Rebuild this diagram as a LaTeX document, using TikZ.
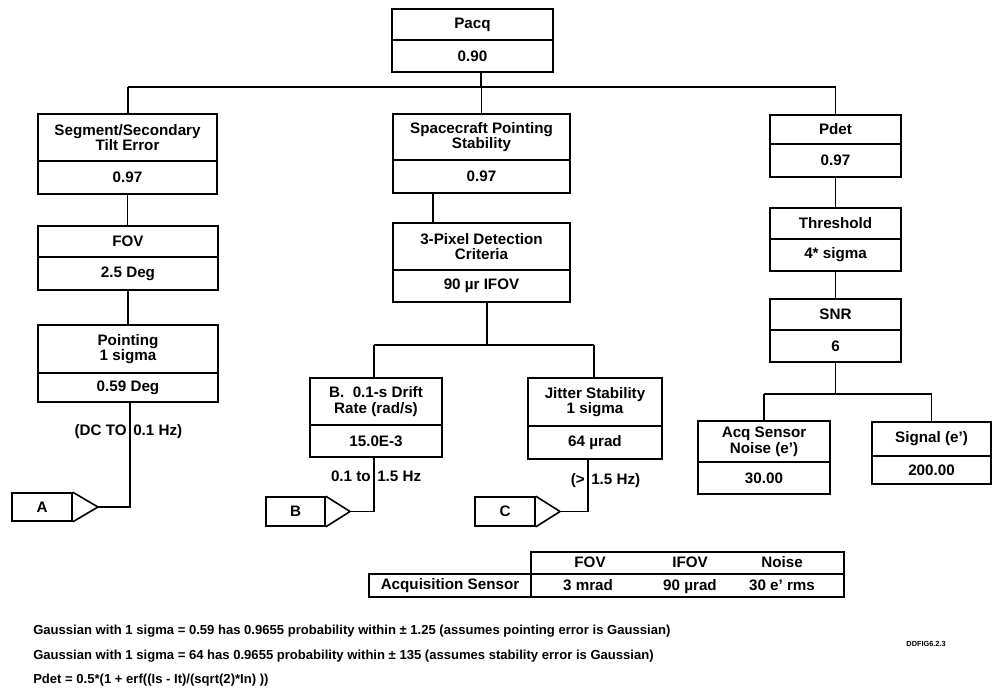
\documentclass[tikz,border=0pt]{standalone}
\usepackage{fontspec}
\setmainfont{Liberation Sans}
\newcommand\boxfont{\bfseries\fontsize{11.4}{11.8}\selectfont}
\newcommand\notefont{\bfseries\fontsize{9.8}{11}\selectfont}
\newcommand\tinyfont{\bfseries\fontsize{5.5}{6}\selectfont}

% Two-row box: name, x-left, x-right, y-top, y-divider, y-bottom, label, value
\newcommand\twobox[8]{%
  \node[cell, minimum width={(#3-#2)*0.75pt}, minimum height={(#5-#4)*0.75pt}]
    (#1) at ({(#2+#3)/2},{(#4+#5)/2}) {#7};
  \node[cell, minimum width={(#3-#2)*0.75pt}, minimum height={(#6-#5)*0.75pt}]
    (#1v) at ({(#2+#3)/2},{(#5+#6)/2}) {#8};}

% Off-page connector: name, x-left, x-right, y-top, y-bottom, tip x, letter
\newcommand\pennant[7]{%
  \node[cell, minimum width={(#3-#2)*0.75pt}, minimum height={(#5-#4)*0.75pt}]
    (#1) at ({(#2+#3)/2},{(#4+#5)/2}) {#7};
  \coordinate (#1tip) at (#6,{(#4+#5)/2});
  \draw[boxline] (#1.north east) -- (#1tip) -- (#1.south east);}

\begin{document}
\begin{tikzpicture}[x=0.75pt,y=-0.75pt,
  boxline/.style={line width=1.2pt, line join=miter},
  cell/.style={draw, boxline, inner sep=0pt, align=center, font=\boxfont},
  conn/.style={line width=0.9pt},
  tag/.style={font=\boxfont, inner sep=0pt, text height=1.6ex, text depth=0.3ex},
  note/.style={font=\notefont, anchor=west, inner sep=0pt}]
\useasboundingbox (0,0) rectangle (994,692);

% ---- top level
\twobox{pacq}{392}{553}{9}{40}{72}{Pacq}{0.90}

% ---- left branch
\twobox{seg}{38}{217}{114}{161}{194}{Segment/Secondary\\Tilt Error}{0.97}
\twobox{fov}{38}{218}{226}{257}{290}{FOV}{2.5 Deg}
\twobox{point}{38}{218}{325}{373}{402}{Pointing\\1 sigma}{0.59 Deg}
\pennant{pA}{12}{72}{493}{521}{98}{A}

% ---- middle branch
\twobox{sc}{393}{570}{114}{160}{193}{Spacecraft Pointing\\Stability}{0.97}
\twobox{pix}{393}{570}{223}{270}{302}{3-Pixel Detection\\Criteria}{90 µr IFOV}
\twobox{drift}{310}{442}{378}{425}{457}{B.\ \ 0.1-s Drift\\Rate (rad/s)}{15.0E-3}
\twobox{jit}{528}{662}{378}{426}{459}{Jitter Stability\\1 sigma}{64 µrad}
\pennant{pB}{266}{325}{497}{526}{350}{B}
\pennant{pC}{475}{535}{497}{526}{560}{C}

% ---- right branch
\twobox{pdet}{770}{901}{115}{144}{177}{Pdet}{0.97}
\twobox{thr}{770}{901}{208}{239}{271}{Threshold}{4* sigma}
\twobox{snr}{770}{901}{299}{330}{362}{SNR}{6}
\twobox{noise}{698}{830}{421}{462}{494}{Acq Sensor\\Noise (e')}{30.00}
\twobox{sig}{872}{991}{422}{456}{484}{Signal (e')}{200.00}

% ---- connectors
\coordinate (busL) at (128,87);
\coordinate (busR) at (835.5,87);
\coordinate (pacqdrop) at (481,87);
\draw[conn] (pacqv.south -| pacqdrop) -- (pacqdrop);
\draw[conn] (busL) -- (busR);
\draw[conn] (busL) -- (busL |- seg.north);
\draw[conn] (sc.north |- busL) -- (sc.north);
\draw[conn] (busR) -- (busR |- pdet.north);

\draw[conn] (segv.south) -- (segv.south |- fov.north);
\draw[conn] (fovv.south) -- (fovv.south |- point.north);
\coordinate (ptx) at (130,0);
\draw[conn] (pointv.south -| ptx) |- (pAtip);

\coordinate (scx) at (433,0);
\draw[conn] (scv.south -| scx) -- (pix.north -| scx);
\coordinate (bus2L) at (374,345);
\coordinate (bus2R) at (594,345);
\coordinate (bus2m) at (487,345);
\draw[conn] (pixv.south -| bus2m) -- (bus2m);
\draw[conn] (bus2L) -- (bus2R);
\draw[conn] (bus2L) -- (bus2L |- drift.north);
\draw[conn] (bus2R) -- (bus2R |- jit.north);
\coordinate (drx) at (374,0);
\draw[conn] (driftv.south -| drx) |- (pBtip);
\coordinate (jix) at (588,0);
\draw[conn] (jitv.south -| jix) |- (pCtip);

\draw[conn] (pdetv.south) -- (thr.north);
\draw[conn] (thrv.south) -- (snr.north);
\coordinate (bus3L) at (764,394);
\coordinate (bus3R) at (931.5,394);
\draw[conn] (snrv.south) -- (snrv.south |- bus3L);
\draw[conn] (bus3L) -- (bus3R);
\draw[conn] (bus3L) -- (noise.north);
\draw[conn] (bus3R) -- (sig.north);

% ---- frequency band labels, split by the connector running through them
\node[tag, anchor=east] (bandAl) at (127,431) {(DC TO};
\node[tag, anchor=west] (bandAr) at (133,431) {0.1 Hz)};
\node[tag, anchor=east] (bandBl) at (371,477) {0.1 to};
\node[tag, anchor=west] (bandBr) at (377,477) {1.5 Hz};
\node[tag, anchor=east] (bandCl) at (585,480) {(>};
\node[tag, anchor=west] (bandCr) at (591,480) {1.5 Hz)};

% ---- sensor table
\node[cell, minimum width={(531-369)*0.75pt}, minimum height={(597-574)*0.75pt}]
  (acq) at (450,585.5) {Acquisition Sensor};
\node[cell, minimum width={(844-531)*0.75pt}, minimum height={(574-552)*0.75pt}]
  (thead) at (687.5,563) {};
\node[cell, minimum width={(844-531)*0.75pt}, minimum height={(597-574)*0.75pt}]
  (tbody) at (687.5,585.5) {};
\node[tag] (hfov) at (590,563) {FOV};
\node[tag] (hifov) at (690,563) {IFOV};
\node[tag] (hnoise) at (782,563) {Noise};
\node[tag] (vfov) at (588,585.5) {3 mrad};
\node[tag] (vifov) at (690,585.5) {90 µrad};
\node[tag] (vnoise) at (782,585.5) {30 e' rms};

% ---- notes
\node[note] (n1) at (33,631) {Gaussian with 1 sigma = 0.59 has 0.9655 probability within ± 1.25 (assumes pointing error is Gaussian)};
\node[note] (n2) at (33,656) {Gaussian with 1 sigma = 64 has 0.9655 probability within ± 135 (assumes stability error is Gaussian)};
\node[note] (n3) at (33,680) {Pdet = 0.5*(1 + erf((Is - It)/(sqrt(2)*In) ))};
\node[font=\tinyfont, inner sep=0pt] (figid) at (926,644) {DDFIG6.2.3};
\end{tikzpicture}
\end{document}
